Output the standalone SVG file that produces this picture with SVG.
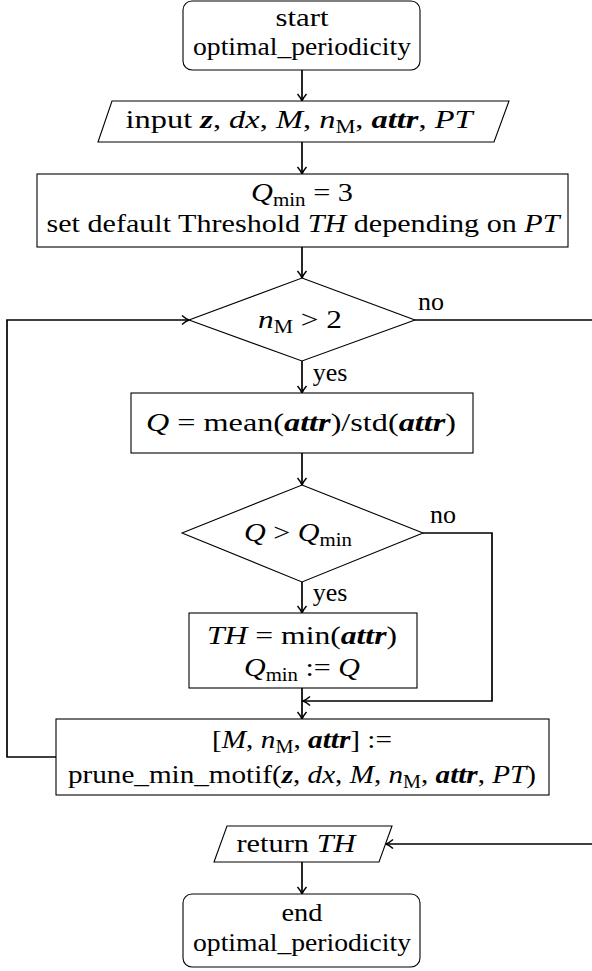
<svg xmlns="http://www.w3.org/2000/svg" width="592" height="971" viewBox="0 0 592 971">
<style>
.sh{fill:#fff;stroke:#000;stroke-width:1.1}
.cn{fill:none;stroke:#000;stroke-width:1.7}
text{font-family:"Liberation Serif","DejaVu Serif",serif;font-size:26px;fill:#000;text-anchor:middle}
.i{font-style:italic}
.b{font-style:italic;font-weight:bold}
.s{font-size:18px}
</style>
<defs>
<marker id="ar" markerWidth="12" markerHeight="12" refX="10" refY="6" orient="auto" markerUnits="userSpaceOnUse">
<path d="M3,1.5 Q7,5 10,6 Q7,7 3,10.5" fill="none" stroke="#000" stroke-width="1.5"/>
</marker>
</defs>
<rect width="592" height="971" fill="#fff"/>
<g id="connectors">
<line class="cn" x1="302" y1="70" x2="302" y2="101" marker-end="url(#ar)"/>
<line class="cn" x1="302" y1="142" x2="302" y2="174" marker-end="url(#ar)"/>
<line class="cn" x1="302" y1="247" x2="302" y2="278" marker-end="url(#ar)"/>
<line class="cn" x1="302" y1="361" x2="302" y2="393" marker-end="url(#ar)"/>
<line class="cn" x1="302" y1="453" x2="302" y2="485" marker-end="url(#ar)"/>
<line class="cn" x1="302" y1="582" x2="302" y2="613" marker-end="url(#ar)"/>
<line class="cn" x1="302" y1="688" x2="302" y2="719" marker-end="url(#ar)"/>
<polyline class="cn" points="423,533 492,533 492,701 303,701" marker-end="url(#ar)"/>
<polyline class="cn" points="56,757 7,757 7,320 189,320" marker-end="url(#ar)"/>
<polyline class="cn" points="415,320 600,320 600,844 386,844" marker-end="url(#ar)"/>
<line class="cn" x1="302" y1="862" x2="302" y2="894" marker-end="url(#ar)"/>
<text x="431" y="310">no</text>
<text x="330" y="381">yes</text>
<text x="443" y="523">no</text>
<text x="330" y="601">yes</text>
</g>
<g id="start">
<rect class="sh" x="183" y="1" width="237" height="69" rx="9"/>
<text x="302" y="26" textLength="53" lengthAdjust="spacingAndGlyphs">start</text>
<text x="302" y="55" textLength="218" lengthAdjust="spacingAndGlyphs">optimal_periodicity</text>
</g>
<g id="input">
<polygon class="sh" points="112,101 509,101 494,142 98,142"/>
<text x="299" y="128" textLength="347" lengthAdjust="spacingAndGlyphs">input <tspan class="b">z</tspan>, <tspan class="i">dx</tspan>, <tspan class="i">M</tspan>, <tspan class="i">n</tspan><tspan class="s" dy="5">M</tspan><tspan dy="-5">, </tspan><tspan class="b">attr</tspan>, <tspan class="i">PT</tspan></text>
</g>
<g id="init">
<rect class="sh" x="37" y="174" width="531" height="73"/>
<text x="302" y="201" textLength="102" lengthAdjust="spacingAndGlyphs"><tspan class="i">Q</tspan><tspan class="s" dy="5">min</tspan><tspan dy="-5"> = 3</tspan></text>
<text x="303" y="232" textLength="513" lengthAdjust="spacingAndGlyphs">set default Threshold <tspan class="i">TH</tspan> depending on <tspan class="i">PT</tspan></text>
</g>
<g id="cond1">
<polygon class="sh" points="302,278 415,320 302,361 189,320"/>
<text x="300" y="328" textLength="84" lengthAdjust="spacingAndGlyphs"><tspan class="i">n</tspan><tspan class="s" dy="5">M</tspan><tspan dy="-5"> &gt; 2</tspan></text>
</g>
<g id="qcalc">
<rect class="sh" x="131" y="393" width="342" height="60"/>
<text x="301" y="431" textLength="310" lengthAdjust="spacingAndGlyphs"><tspan class="i">Q</tspan> = mean(<tspan class="b">attr</tspan>)/std(<tspan class="b">attr</tspan>)</text>
</g>
<g id="cond2">
<polygon class="sh" points="302,485 423,533 302,582 182,533"/>
<text x="298" y="541" textLength="108" lengthAdjust="spacingAndGlyphs"><tspan class="i">Q</tspan> &gt; <tspan class="i">Q</tspan><tspan class="s" dy="5">min</tspan></text>
</g>
<g id="update">
<rect class="sh" x="189" y="613" width="228" height="75"/>
<text x="302" y="644" textLength="190" lengthAdjust="spacingAndGlyphs"><tspan class="i">TH</tspan> = min(<tspan class="b">attr</tspan>)</text>
<text x="302" y="676" textLength="116" lengthAdjust="spacingAndGlyphs"><tspan class="i">Q</tspan><tspan class="s" dy="5">min</tspan><tspan dy="-5"> := </tspan><tspan class="i">Q</tspan></text>
</g>
<g id="prune">
<rect class="sh" x="56" y="719" width="493" height="76"/>
<text x="302" y="748" textLength="180" lengthAdjust="spacingAndGlyphs">[<tspan class="i">M</tspan>, <tspan class="i">n</tspan><tspan class="s" dy="5">M</tspan><tspan dy="-5">, </tspan><tspan class="b">attr</tspan>] :=</text>
<text x="302" y="783" textLength="468" lengthAdjust="spacingAndGlyphs">prune_min_motif(<tspan class="b">z</tspan>, <tspan class="i">dx</tspan>, <tspan class="i">M</tspan>, <tspan class="i">n</tspan><tspan class="s" dy="5">M</tspan><tspan dy="-5">, </tspan><tspan class="b">attr</tspan>, <tspan class="i">PT</tspan>)</text>
</g>
<g id="return">
<polygon class="sh" points="227,826 392,826 379,862 214,862"/>
<text x="296" y="852" textLength="119" lengthAdjust="spacingAndGlyphs">return <tspan class="i">TH</tspan></text>
</g>
<g id="end">
<rect class="sh" x="183" y="894" width="237" height="73" rx="9"/>
<text x="302" y="921" textLength="41" lengthAdjust="spacingAndGlyphs">end</text>
<text x="302" y="951" textLength="218" lengthAdjust="spacingAndGlyphs">optimal_periodicity</text>
</g>
</svg>
